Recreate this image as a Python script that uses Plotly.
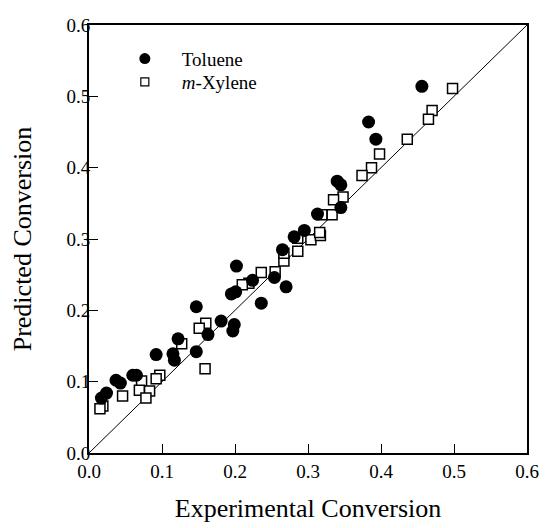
import plotly.graph_objects as go

# Toluene (filled circles): experimental vs predicted conversion
toluene_exp = [0.147, 0.181, 0.163, 0.122, 0.092, 0.115, 0.117, 0.147, 0.060, 0.065,
               0.037, 0.043, 0.024, 0.017, 0.202, 0.195, 0.201, 0.236, 0.270, 0.254,
               0.224, 0.265, 0.199, 0.197, 0.281, 0.340, 0.345, 0.345, 0.313, 0.295,
               0.456, 0.383, 0.393]
toluene_pred = [0.205, 0.185, 0.166, 0.160, 0.138, 0.139, 0.130, 0.142, 0.109, 0.109,
                0.102, 0.098, 0.084, 0.077, 0.262, 0.223, 0.226, 0.210, 0.233, 0.246,
                0.242, 0.285, 0.180, 0.171, 0.303, 0.381, 0.376, 0.344, 0.335, 0.312,
                0.514, 0.464, 0.440]

# m-Xylene (open squares)
xylene_exp = [0.160, 0.151, 0.127, 0.159, 0.097, 0.092, 0.072, 0.069, 0.083, 0.078,
              0.046, 0.019, 0.015, 0.236, 0.255, 0.219, 0.210, 0.267, 0.267, 0.286,
              0.304, 0.317, 0.286, 0.436, 0.398, 0.387, 0.374, 0.348, 0.335, 0.333,
              0.319, 0.316, 0.498, 0.470, 0.465]
xylene_pred = [0.182, 0.175, 0.153, 0.118, 0.109, 0.104, 0.101, 0.088, 0.087, 0.077,
               0.080, 0.066, 0.062, 0.253, 0.254, 0.238, 0.236, 0.269, 0.280, 0.283,
               0.299, 0.305, 0.301, 0.440, 0.419, 0.400, 0.389, 0.359, 0.355, 0.334,
               0.334, 0.309, 0.511, 0.480, 0.468]

parity_line = [0.0, 0.6]
tick_vals = [0.0, 0.1, 0.2, 0.3, 0.4, 0.5, 0.6]
tick_text = ["0.0", "0.1", "0.2", "0.3", "0.4", "0.5", "0.6"]

FONT = "Liberation Serif, Times New Roman, serif"

fig = go.Figure()

fig.add_trace(go.Scatter(x=parity_line, y=parity_line, mode="lines",
                         line=dict(color="black", width=1), showlegend=False,
                         hoverinfo="skip"))

fig.add_trace(go.Scatter(x=xylene_exp, y=xylene_pred, mode="markers",
                         marker=dict(symbol="square", size=10, color="white",
                                     line=dict(color="black", width=1.5)),
                         showlegend=False))

fig.add_trace(go.Scatter(x=toluene_exp, y=toluene_pred, mode="markers",
                         marker=dict(symbol="circle", size=13, color="black",
                                     line=dict(width=0)),
                         showlegend=False))

# legend entries (one legend box per entry so the row spacing can be matched)
fig.add_trace(go.Scatter(x=[None], y=[None], mode="markers", name="Toluene",
                         marker=dict(symbol="circle", size=11, color="black"),
                         legend="legend"))
fig.add_trace(go.Scatter(x=[None], y=[None], mode="markers", name="<i>m</i>-Xylene",
                         marker=dict(symbol="square", size=8, color="white",
                                     line=dict(color="black", width=1.2)),
                         legend="legend2"))

axis_common = dict(range=[0, 0.6], tickvals=tick_vals, ticktext=tick_text,
                   ticks="inside", ticklen=9, tickwidth=1, tickcolor="black",
                   showline=True, linecolor="black", linewidth=2, mirror=True,
                   showgrid=False, zeroline=False, ticklabeloverflow="allow",
                   tickfont=dict(family=FONT, size=19, color="black"))

legend_common = dict(xanchor="left", yanchor="top",
                     bgcolor="rgba(0,0,0,0)", borderwidth=0,
                     font=dict(family=FONT, size=19, color="black"),
                     tracegroupgap=0, itemwidth=64)

fig.update_layout(
    width=545, height=520,
    margin=dict(l=81, r=26, t=7, b=75),
    paper_bgcolor="white", plot_bgcolor="white",
    font=dict(family=FONT, color="black"),
    xaxis=dict(**axis_common,
               title=dict(text="Experimental Conversion",
                          font=dict(family=FONT, size=26, color="black"),
                          standoff=18)),
    yaxis=dict(**axis_common, ticklabelstandoff=-7,
               title=dict(text="Predicted Conversion",
                          font=dict(family=FONT, size=26, color="black"),
                          standoff=29)),
    legend=dict(x=0.043, y=0.9655, **legend_common),
    legend2=dict(x=0.043, y=0.911, **legend_common),
    showlegend=True,
)

fig.write_html("out.html")
